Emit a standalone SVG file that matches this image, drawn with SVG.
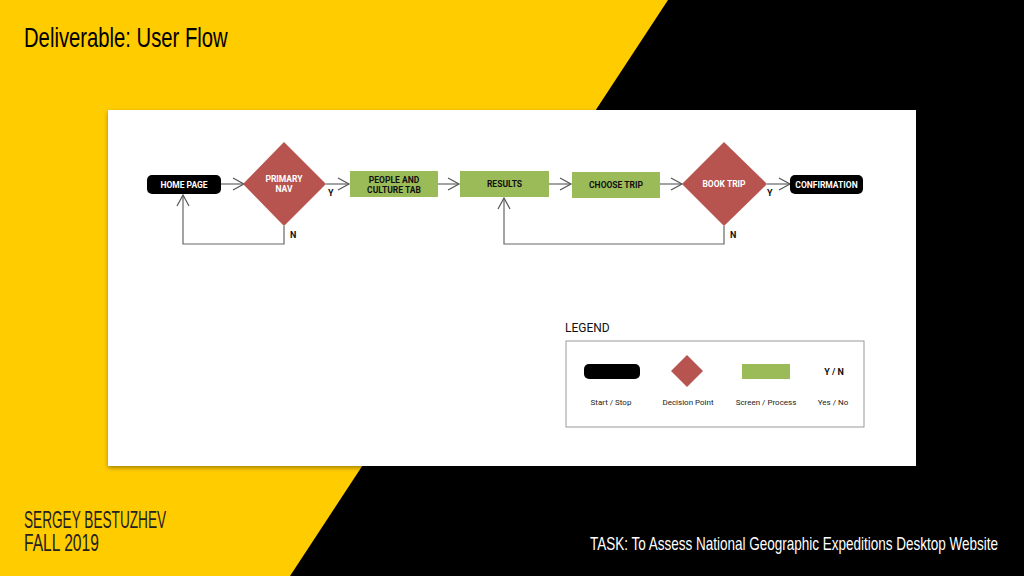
<svg xmlns="http://www.w3.org/2000/svg" width="1024" height="576" viewBox="0 0 1024 576">
<defs>
<style>
.title{font-family:"Liberation Sans",Arial,sans-serif;font-size:27px;fill:#000}
.foot{font-family:"Liberation Sans",Arial,sans-serif}
.nt{font-family:Roboto,"Liberation Sans",sans-serif;font-size:8.5px;font-weight:bold;text-anchor:middle}
.lab{font-family:Roboto,"Liberation Sans",sans-serif;font-size:9px;font-weight:bold;fill:#111}
.leg{font-family:Roboto,"Liberation Sans",sans-serif;font-size:8px;fill:#222;text-anchor:middle}
.conn{fill:none;stroke:#666;stroke-width:1.2}
.pill{fill:#000}
.dia{fill:#b85450}
.box{fill:#9bbb59}
</style>
<marker id="ah" markerWidth="14" markerHeight="14" refX="12" refY="7" orient="auto" markerUnits="userSpaceOnUse">
<path d="M1,1 L12,7 L1,13" fill="none" stroke="#555" stroke-width="1.2"/>
</marker>
<filter id="sh" x="-5%" y="-5%" width="110%" height="115%">
<feDropShadow dx="0" dy="2" stdDeviation="2" flood-color="#000" flood-opacity="0.35"/>
</filter>
</defs>
<rect x="0" y="0" width="1024" height="576" fill="#ffcc00"/>
<polygon points="668,0 1024,0 1024,576 290,576" fill="#000"/>
<text class="title" transform="translate(24,47) scale(0.7,1)" textLength="291" lengthAdjust="spacingAndGlyphs">Deliverable: User Flow</text>
<rect x="108" y="110" width="808" height="356" fill="#fff" filter="url(#sh)"/>

<g id="connectors">
<line class="conn" x1="221" y1="184" x2="244" y2="184" marker-end="url(#ah)"/>
<line class="conn" x1="326" y1="184" x2="349" y2="184" marker-end="url(#ah)"/>
<line class="conn" x1="438" y1="184" x2="459" y2="184" marker-end="url(#ah)"/>
<line class="conn" x1="549" y1="184" x2="571" y2="184" marker-end="url(#ah)"/>
<line class="conn" x1="660" y1="184" x2="682" y2="184" marker-end="url(#ah)"/>
<line class="conn" x1="767" y1="184" x2="790" y2="184" marker-end="url(#ah)"/>
<polyline class="conn" points="284,226 284,244 183,244 183,195" marker-end="url(#ah)"/>
<polyline class="conn" points="724,226 724,244 504,244 504,198" marker-end="url(#ah)"/>
<text class="lab" x="328" y="196">Y</text>
<text class="lab" x="290" y="238">N</text>
<text class="lab" x="767" y="196">Y</text>
<text class="lab" x="730" y="238">N</text>
</g>

<g id="home">
<rect class="pill" x="147" y="175" width="74" height="19" rx="5"/>
<text class="nt" x="184" y="187.5" fill="#fff">HOME PAGE</text>
</g>
<g id="primary-nav">
<polygon class="dia" points="284,142 326,184 284,226 243,184"/>
<text class="nt" x="284" y="182" fill="#fff">PRIMARY</text>
<text class="nt" x="284" y="192" fill="#fff">NAV</text>
</g>
<g id="people">
<rect class="box" x="350" y="171" width="88" height="26"/>
<text class="nt" x="394" y="182.5" fill="#111">PEOPLE AND</text>
<text class="nt" x="394" y="192.5" fill="#111">CULTURE TAB</text>
</g>
<g id="results">
<rect class="box" x="460" y="171" width="89" height="26"/>
<text class="nt" x="504.5" y="187" fill="#111">RESULTS</text>
</g>
<g id="choose">
<rect class="box" x="572" y="172" width="88" height="26"/>
<text class="nt" x="616" y="188" fill="#111">CHOOSE TRIP</text>
</g>
<g id="book">
<polygon class="dia" points="724,142 767,184 724,226 682,184"/>
<text class="nt" x="724" y="187" fill="#fff">BOOK TRIP</text>
</g>
<g id="confirmation">
<rect class="pill" x="790" y="175" width="73" height="19" rx="5"/>
<text class="nt" x="826.5" y="187.5" fill="#fff">CONFIRMATION</text>
</g>

<g id="legend">
<text x="565" y="332" font-family="Roboto,'Liberation Sans',sans-serif" font-size="12" fill="#111">LEGEND</text>
<rect x="566" y="341" width="298" height="86" fill="#fff" stroke="#999" stroke-width="1"/>
<rect class="pill" x="584" y="364" width="56" height="15" rx="5"/>
<polygon class="dia" points="687,355 703,371 687,387 671,371"/>
<rect class="box" x="742" y="364" width="48" height="15"/>
<text class="lab" x="834" y="375" text-anchor="middle">Y / N</text>
<text class="leg" x="611" y="405">Start / Stop</text>
<text class="leg" x="688" y="405">Decision Point</text>
<text class="leg" x="766" y="405">Screen / Process</text>
<text class="leg" x="833" y="405">Yes / No</text>
</g>

<text class="foot" transform="translate(24,528) scale(0.7,1)" font-size="23" fill="#222" textLength="203" lengthAdjust="spacingAndGlyphs">SERGEY BESTUZHEV</text>
<text class="foot" transform="translate(24,551) scale(0.7,1)" font-size="23" fill="#222" textLength="107" lengthAdjust="spacingAndGlyphs">FALL 2019</text>
<text class="foot" transform="translate(590,550) scale(0.7,1)" font-size="18" fill="#fff" textLength="583" lengthAdjust="spacingAndGlyphs">TASK: To Assess National Geographic Expeditions Desktop Website</text>
</svg>
